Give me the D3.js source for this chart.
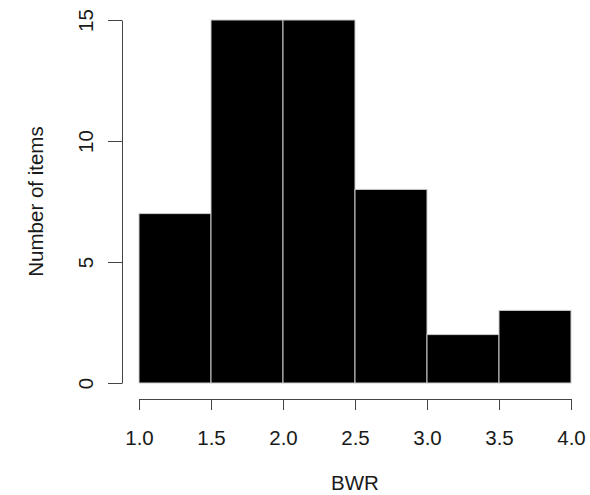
<!DOCTYPE html>
<html>
<head>
  <meta charset="utf-8">
  <style type="text/css">
    body { margin: 0; background: #fff; }
    svg { display: block; font-family: "Liberation Sans", Arial, sans-serif; }
    .axis text { font-size: 20.5px; fill: #1a1a1a; font-family: "Liberation Sans", Arial, sans-serif; }
    .axis path, .axis line { stroke: #444; stroke-width: 1px; }
    .bar { fill: #000; stroke: #ccc; stroke-width: 1px; }
    .label { font-size: 20.5px; fill: #1a1a1a; }
  </style>
</head>
<body>
  <script src="https://d3js.org/d3.v7.min.js"></script>
  <script>
    // histogram bins of BWR
    var binStart = [1.0, 1.5, 2.0, 2.5, 3.0, 3.5];
    var binEnd   = [1.5, 2.0, 2.5, 3.0, 3.5, 4.0];
    var counts   = [7, 15, 15, 8, 2, 3];
    var xTicks = [1.0, 1.5, 2.0, 2.5, 3.0, 3.5, 4.0];
    var yTicks = [0, 5, 10, 15];

    var width = 590, height = 495;

    var x = d3.scaleLinear().domain([1, 4]).range([139, 571]);
    var y = d3.scaleLinear().domain([0, 15]).range([383, 20]);

    var svg = d3.select("body").append("svg")
      .attr("width", width)
      .attr("height", height);

    // bars
    svg.selectAll(".bar")
      .data(counts)
    .enter().append("rect")
      .attr("class", "bar")
      .attr("x", function(d, i) { return x(binStart[i]); })
      .attr("width", function(d, i) { return x(binEnd[i]) - x(binStart[i]); })
      .attr("y", function(d) { return y(d); })
      .attr("height", function(d) { return y(0) - y(d); });

    // x axis
    var xAxis = d3.axisBottom(x)
      .tickValues(xTicks)
      .tickFormat(d3.format(".1f"))
      .tickSize(11)
      .tickSizeOuter(0);

    var gx = svg.append("g")
      .attr("class", "x axis")
      .attr("transform", "translate(0,399)")
      .call(xAxis);

    gx.selectAll("text")
      .attr("dy", null)
      .attr("y", 46);

    // y axis, R style rotated labels
    var yAxis = d3.axisLeft(y)
      .tickValues(yTicks)
      .tickSize(14)
      .tickSizeOuter(0);

    var gy = svg.append("g")
      .attr("class", "y axis")
      .attr("transform", "translate(122,0)")
      .call(yAxis);

    gy.selectAll("text")
      .attr("x", null)
      .attr("dy", null)
      .attr("text-anchor", "middle")
      .attr("transform", "translate(-29,0) rotate(-90)");

    svg.append("text")
      .attr("class", "label")
      .attr("text-anchor", "middle")
      .attr("x", x(2.5))
      .attr("y", 490)
      .text("BWR");

    svg.append("text")
      .attr("class", "label")
      .attr("text-anchor", "middle")
      .attr("transform", "translate(43," + y(7.5) + ") rotate(-90)")
      .text("Number of items");
  </script>
</body>
</html>
